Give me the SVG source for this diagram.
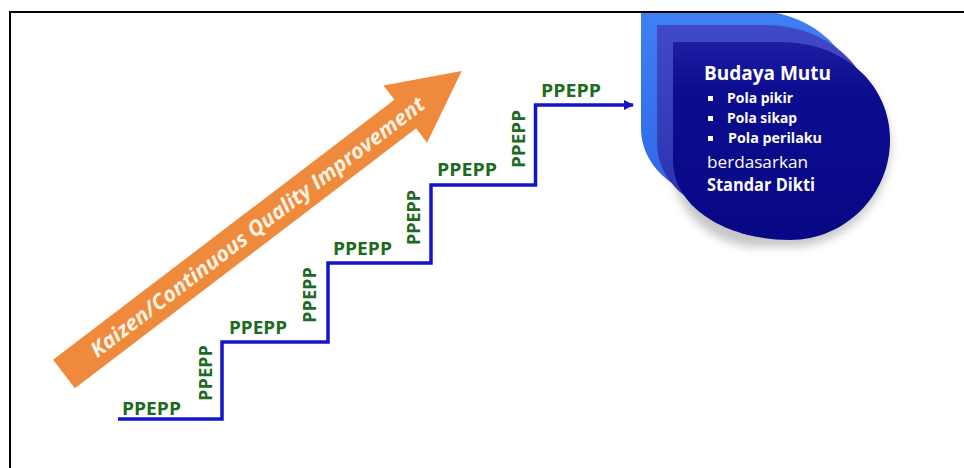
<svg xmlns="http://www.w3.org/2000/svg" width="964" height="468" viewBox="0 0 964 468">
  <style>
    .lbl { font-family: "Open Sans", "Liberation Sans", sans-serif; font-weight: 700; font-size: 17px; fill: #1d6a21; }
    .stair { fill: none; stroke: #1414c8; stroke-width: 3.5; stroke-linejoin: miter; }
    .frame { stroke: #000; stroke-width: 2; fill: none; }
    .bt { font-family: "Open Sans", "Liberation Sans", sans-serif; fill: #ffffff; }
    .b { font-weight: 700; }
  </style>
  <defs>
    <marker id="ah" viewBox="0 0 10 10" refX="9" refY="5" markerWidth="3" markerHeight="3" orient="auto" markerUnits="strokeWidth">
      <path d="M0,0 L10,5 L0,10 Z" fill="#1414c8"/>
    </marker>
    <linearGradient id="g1" x1="0" y1="0" x2="0" y2="1">
      <stop offset="0" stop-color="#3f80f4"/>
      <stop offset="1" stop-color="#2f64e6"/>
    </linearGradient>
    <linearGradient id="g2" x1="0" y1="0" x2="0" y2="1">
      <stop offset="0" stop-color="#4249c8"/>
      <stop offset="1" stop-color="#2a30aa"/>
    </linearGradient>
    <linearGradient id="g3" x1="0" y1="0" x2="0" y2="1">
      <stop offset="0" stop-color="#1e1ea4"/>
      <stop offset="0.25" stop-color="#0c0c90"/>
      <stop offset="1" stop-color="#080886"/>
    </linearGradient>
    <filter id="sh" x="-20%" y="-20%" width="140%" height="140%">
      <feGaussianBlur stdDeviation="5"/>
    </filter>
    <clipPath id="clipTop">
      <rect x="0" y="12" width="964" height="456"/>
    </clipPath>
  </defs>

  <rect x="0" y="0" width="964" height="468" fill="#ffffff"/>

  <!-- Orange arrow -->
  <g id="kaizen-arrow" transform="translate(64,374) rotate(-37.3)">
    <path d="M0,-18 L429,-18 L429,-36 L500,0 L429,36 L429,18 L0,18 Z" fill="#ef8a3c"/>
    <text x="36" y="7.5" textLength="414" lengthAdjust="spacingAndGlyphs" font-family="'Open Sans', 'Liberation Sans', sans-serif" font-weight="700" font-style="italic" font-size="21" fill="#fdf1e2">Kaizen/Continuous Quality Improvement</text>
  </g>

  <!-- Budaya Mutu blob -->
  <g id="budaya-mutu" clip-path="url(#clipTop)">
    <path d="M673,50 L780,50 C845,50 890,92 890,147 C890,200 845,247 790,247 L760,247 C715,247 673,215 673,165 Z" fill="#000" opacity="0.22" filter="url(#sh)"/>
    <path d="M641,10 L748,10 C813,10 858,53 858,108 C858,163 813,208 758,208 C698,208 641,178 641,128 Z" fill="url(#g1)"/>
    <path d="M657,25 L764,25 C829,25 874,68 874,123 C874,178 829,223 774,223 C714,223 657,193 657,143 Z" fill="url(#g2)"/>
    <path d="M673,42 L780,42 C845,42 890,85 890,140 C890,195 845,240 790,240 C730,240 673,210 673,160 Z" fill="url(#g3)"/>
    <text class="bt b" x="704" y="80" font-size="20" textLength="127" lengthAdjust="spacingAndGlyphs">Budaya Mutu</text>
    <rect x="708" y="96" width="5" height="5" fill="#fff"/>
    <text class="bt b" x="727" y="103" font-size="14" textLength="66" lengthAdjust="spacingAndGlyphs">Pola pikir</text>
    <rect x="708" y="116" width="5" height="5" fill="#fff"/>
    <text class="bt b" x="727" y="123" font-size="14" textLength="70" lengthAdjust="spacingAndGlyphs">Pola sikap</text>
    <rect x="708" y="136" width="5" height="5" fill="#fff"/>
    <text class="bt b" x="728" y="143" font-size="14" textLength="94" lengthAdjust="spacingAndGlyphs">Pola perilaku</text>
    <text class="bt" x="707" y="168" font-size="17" textLength="101" lengthAdjust="spacingAndGlyphs">berdasarkan</text>
    <text class="bt b" x="707" y="191" font-size="17" textLength="108" lengthAdjust="spacingAndGlyphs">Standar Dikti</text>
  </g>

  <!-- Connectors: staircase -->
  <g id="connectors">
    <path class="stair" d="M118,419 H222 V342 H328 V263 H431 V185 H535.5 V105 H633" marker-end="url(#ah)"/>
  </g>

  <!-- Step labels -->
  <g id="h1"><text class="lbl" x="122" y="415" textLength="59" lengthAdjust="spacingAndGlyphs">PPEPP</text></g>
  <g id="v1"><text class="lbl" transform="translate(212,401) rotate(-90)" textLength="56" lengthAdjust="spacingAndGlyphs">PPEPP</text></g>
  <g id="h2"><text class="lbl" x="229" y="334" textLength="58" lengthAdjust="spacingAndGlyphs">PPEPP</text></g>
  <g id="v2"><text class="lbl" transform="translate(316,323) rotate(-90)" textLength="56" lengthAdjust="spacingAndGlyphs">PPEPP</text></g>
  <g id="h3"><text class="lbl" x="333" y="255" textLength="59" lengthAdjust="spacingAndGlyphs">PPEPP</text></g>
  <g id="v3"><text class="lbl" transform="translate(420,245) rotate(-90)" textLength="55" lengthAdjust="spacingAndGlyphs">PPEPP</text></g>
  <g id="h4"><text class="lbl" x="437" y="176" textLength="60" lengthAdjust="spacingAndGlyphs">PPEPP</text></g>
  <g id="v4"><text class="lbl" transform="translate(525,168) rotate(-90)" textLength="58" lengthAdjust="spacingAndGlyphs">PPEPP</text></g>
  <g id="h5"><text class="lbl" x="541" y="97" textLength="60" lengthAdjust="spacingAndGlyphs">PPEPP</text></g>

  <!-- Frame -->
  <path class="frame" d="M10,468 V12 H964"/>
</svg>
